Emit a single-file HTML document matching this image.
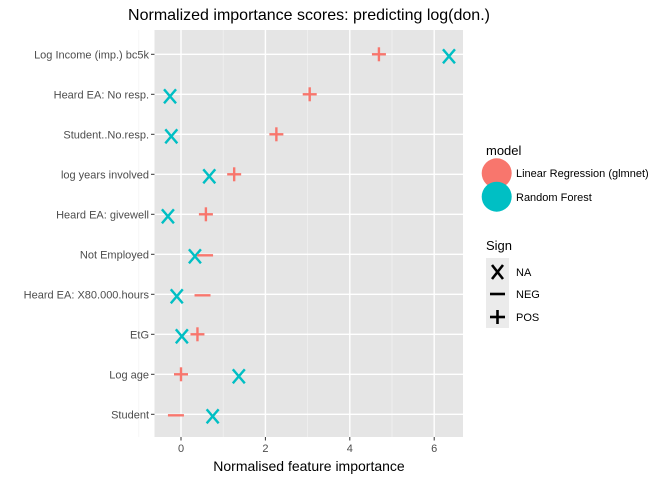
<!DOCTYPE html>
<html><head><meta charset="utf-8"><style>
body{margin:0;background:#fff;font-family:"Liberation Sans",sans-serif;}
svg text{font-family:"Liberation Sans",sans-serif;}
</style></head><body>
<svg id="c" width="672" height="480" xmlns="http://www.w3.org/2000/svg">
<rect x="0" y="0" width="672" height="480" fill="#fff"/>
<text x="309" y="20" font-size="16" text-anchor="middle" fill="#000">Normalized importance scores: predicting log(don.)</text>
<rect x="154.5" y="30" width="308.5" height="407" fill="#e5e5e5"/>
<g id="grid"></g><g id="axes"></g><g id="marks"></g>
<text x="309" y="471" font-size="14" text-anchor="middle">Normalised feature importance</text>
<g>
<text x="486" y="155" font-size="13">model</text>
<circle cx="496.7" cy="173.3" r="15" fill="#F8766D"/>
<circle cx="496.7" cy="196.7" r="15" fill="#00BFC4"/>
<text x="516" y="177" font-size="11">Linear Regression (glmnet)</text>
<text x="516" y="201" font-size="11">Random Forest</text>
</g>
<g>
<text x="486" y="250" font-size="13">Sign</text>
<rect x="486" y="258" width="23" height="70" fill="#ebebeb"/>
<g stroke="#000" stroke-width="2.6"><line x1="492" y1="265" x2="503" y2="279"/><line x1="503" y1="265" x2="492" y2="279"/>
<line x1="490" y1="294" x2="505" y2="294"/><line x1="490" y1="317" x2="505" y2="317"/><line x1="497.5" y1="310" x2="497.5" y2="324"/></g>
<text x="516" y="276" font-size="11">NA</text>
<text x="516" y="298" font-size="11">NEG</text>
<text x="516" y="321" font-size="11">POS</text>
</g>
</svg>
<script>
const categories=["Log Income (imp.) bc5k","Heard EA: No resp.","Student..No.resp.","log years involved","Heard EA: givewell","Not Employed","Heard EA: X80.000.hours","EtG","Log age","Student"];
const lrValues=[4.69,3.05,2.26,1.26,0.59,0.57,0.51,0.39,0.0,-0.12];
const lrSigns=["POS","POS","POS","POS","POS","NEG","NEG","POS","POS","NEG"];
const rfValues=[6.35,-0.26,-0.23,0.67,-0.31,0.33,-0.1,0.02,1.37,0.75];
const xTicks=[0,2,4,6];
const NS="http://www.w3.org/2000/svg";
const X=v=>181+v*42.2;
const Y=i=>54.3+40*i;
function mk(tag,attrs,parent){const e=document.createElementNS(NS,tag);for(const k in attrs)e.setAttribute(k,attrs[k]);parent.appendChild(e);return e;}
const grid=document.getElementById('grid'),axes=document.getElementById('axes'),marks=document.getElementById('marks');
for(let t=-1;t<=6;t+=2){const l=mk('line',{x1:X(t),x2:X(t),y1:30,y2:437,stroke:'#f2f2f2','stroke-width':0.7},grid);}
xTicks.forEach(t=>{const l=mk('line',{x1:X(t),x2:X(t),y1:30,y2:437,stroke:'#fff','stroke-width':1.4},grid);
 mk('line',{x1:X(t),x2:X(t),y1:437,y2:440.5,stroke:'#333','stroke-width':1},axes);
 const tx=mk('text',{x:X(t),y:452,'font-size':11,'text-anchor':'middle',fill:'#4d4d4d'},axes);tx.textContent=t;});
categories.forEach((c,i)=>{const l=mk('line',{x1:154.5,x2:463,y1:Y(i),y2:Y(i),stroke:'#fff','stroke-width':1.4},grid);
 mk('line',{x1:151,x2:154.5,y1:Y(i),y2:Y(i),stroke:'#333','stroke-width':1},axes);
 const tx=mk('text',{x:149,y:Y(i)+4,'font-size':11,'text-anchor':'end',fill:'#4d4d4d'},axes);tx.textContent=c;});
function shape(sign,x,y,color){const g=mk('g',{stroke:color,'stroke-width':2.4},marks);
 if(sign==="NA"){mk('line',{x1:x-6,y1:y-7,x2:x+6,y2:y+7},g);mk('line',{x1:x+6,y1:y-7,x2:x-6,y2:y+7},g);}
 else if(sign==="NEG"){mk('line',{x1:x-8,y1:y+1,x2:x+8,y2:y+1},g);}
 else {mk('line',{x1:x-7,y1:y,x2:x+7,y2:y},g);mk('line',{x1:x,y1:y-7,x2:x,y2:y+7},g);}
 return g;}
rfValues.forEach((v,i)=>{const g=shape("NA",X(v),Y(i)+2,'#00BFC4');});
lrValues.forEach((v,i)=>{const g=shape(lrSigns[i],X(v),Y(i),'#F8766D');});
</script>
</body></html>
